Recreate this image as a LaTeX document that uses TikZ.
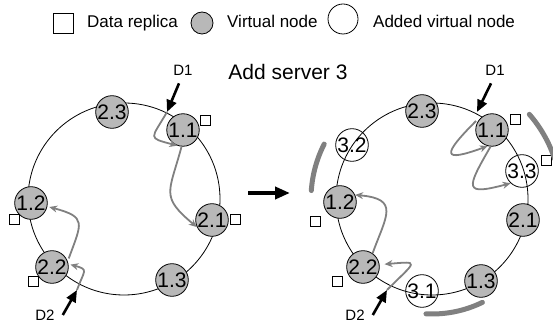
\documentclass[tikz,border=0pt]{standalone}
\usepackage{fontspec}
\setmainfont{Liberation Sans}
\usetikzlibrary{calc}
\usetikzlibrary{arrows.meta}

\definecolor{vgray}{gray}{0.72}
\definecolor{agray}{gray}{0.5}

\tikzset{
 vnode/.style={circle, draw, fill=vgray, line width=0.8pt, minimum size=30pt, inner sep=0pt, font=\fontsize{21}{21}\selectfont},
 newnode/.style={circle, draw, line width=0.8pt, minimum size=30pt, inner sep=0pt, font=\fontsize{21}{21}\selectfont},
 replica/.style={draw, line width=0.8pt, minimum size=10pt, inner sep=0pt},
 txt/.style={inner sep=0pt, font=\fontsize{17}{17}\selectfont},
 dlabel/.style={inner sep=0pt, font=\fontsize{15}{15}\selectfont},
 garrow/.style={agray, line width=1.8pt, ->, >={Stealth[length=8pt,width=7pt]}},
 barrow/.style={black, line width=2.6pt, ->, >={Triangle[length=12pt,width=10pt]}},
 shiftarc/.style={agray, line width=5pt, line cap=round},
}

\begin{document}
\begin{tikzpicture}[x=1pt,y=1pt]
\useasboundingbox (0,0) rectangle (553,326);

% legend
\node[replica, minimum size=20pt] (legrep) at (63,303) {};
\node[txt, anchor=base west] (legreptxt) at (87,298) {Data replica};
\node[vnode, minimum size=22pt] (legvn) at (202,303) {};
\node[txt, anchor=base west] (legvntxt) at (227,298) {Virtual node};
\node[newnode, minimum size=30pt] (legnew) at (343,307) {};
\node[txt, anchor=base west] (legnewtxt) at (373,298) {Added virtual node};

\node[txt, font=\fontsize{21}{21}\selectfont] (title) at (288,254) {Add server 3};

% ring before
\coordinate (L) at (124,127);
\draw[line width=0.8pt] (L) circle (96pt);
\node[vnode] (l23) at (112,214) {2.3};
\node[vnode] (l11) at (183,196) {1.1};
\node[vnode] (l21) at (212,106) {2.1};
\node[vnode] (l13) at (172,46) {1.3};
\node[vnode] (l22) at (52,59) {2.2};
\node[vnode] (l12) at (31,123) {1.2};
\node[replica] (lrep11) at (205,206) {};
\node[replica] (lrep21) at (235,107) {};
\node[replica] (lrep12) at (14,107) {};
\node[replica] (lrep22) at (33,45) {};

\node[dlabel] (labD1L) at (183,256) {D1};
\node[dlabel] (labD2L) at (45,11) {D2};
\coordinate (d1L) at (167,214);
\coordinate (d2L) at (77,36);
\draw[barrow] ([shift={(-4pt,-8pt)}]labD1L.south) -- (d1L);
\draw[barrow] ([xshift=8pt]labD2L.east) -- (d2L);

\draw[garrow] (d1L) to[out=240,in=165,looseness=2.3] (l11.250);
\draw[garrow] (l11.265) to[out=255,in=140,looseness=1.5] (l21.205);
\draw[garrow, shorten >=2pt] (d2L) to[out=70,in=-15,looseness=2] (l22.10);
\draw[garrow, shorten <=3pt, shorten >=2pt] (l22.20) to[out=70,in=-15,looseness=1.8] (l12.-12);

% middle arrow
\coordinate (mid1) at (248,133);
\coordinate (mid2) at (290,133);
\draw[black, line width=3.8pt, ->, >={Triangle[length=15pt,width=12pt]}] (mid1) -- (mid2);

% ring after
\coordinate (R) at (432,127);
\draw[line width=0.8pt] (R) circle (96pt);
\node[vnode] (r23) at (422,215) {2.3};
\node[vnode] (r11) at (492,196) {1.1};
\node[newnode] (r33) at (522,155) {3.3};
\node[vnode] (r21) at (523,106) {2.1};
\node[vnode] (r13) at (481,45) {1.3};
\node[newnode] (r31) at (422,35) {3.1};
\node[vnode] (r22) at (363,59) {2.2};
\node[vnode] (r12) at (340,124) {1.2};
\node[newnode] (r32) at (352,181) {3.2};
\node[replica] (rrep11) at (515,207) {};
\node[replica] (rrep33) at (546,166) {};
\node[replica] (rrep12) at (315,105) {};
\node[replica] (rrep22) at (337,45) {};

\draw[shiftarc] ($(R)+(153:121pt)$) arc (153:176:121pt);
\draw[shiftarc] ($(R)+(267:115pt)$) arc (267:296:115pt);
\draw[shiftarc] ($(R)+(41:129pt)$) arc (41:18:129pt);

\node[dlabel] (labD1R) at (495,256) {D1};
\node[dlabel] (labD2R) at (355,11) {D2};
\coordinate (d1R) at (477,214);
\coordinate (d2R) at (387,36);
\coordinate (s1R) at (476,205);
\draw[barrow] ([shift={(-4pt,-8pt)}]labD1R.south) -- (d1R);
\draw[barrow] ([xshift=8pt]labD2R.east) -- (d2R);

\draw[garrow] (s1R) to[out=225,in=200,looseness=4.5] (r11.255);
\draw[garrow] (r11.265) to[out=240,in=195,looseness=3] (r33.227);
\draw[garrow, shorten >=5pt] (d2R) to[out=45,in=5,looseness=4] (r22.8);
\draw[garrow] (r22.55) .. controls +(70:40) and +(-5:45) .. (r12.25);
\end{tikzpicture}
\end{document}
